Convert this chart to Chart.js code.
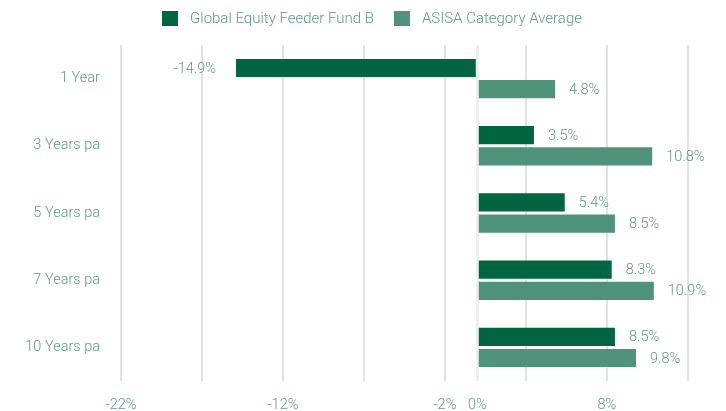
<!DOCTYPE html>
<html>
<head>
<meta charset="utf-8">
<script src="https://cdn.jsdelivr.net/npm/chart.js@4.4.1/dist/chart.umd.min.js"></script>
<style>
html,body{margin:0;padding:0;background:#fff;}
#wrap{width:726px;height:411px;position:relative;}
</style>
</head>
<body>
<div id="wrap"><canvas id="c"></canvas></div>
<script>
const categories = ["1 Year", "3 Years pa", "5 Years pa", "7 Years pa", "10 Years pa"];
const fundValues = [-14.9, 3.5, 5.4, 8.3, 8.5];
const categoryAvgValues = [4.8, 10.8, 8.5, 10.9, 9.8];
const seriesNames = ["Global Equity Feeder Fund B", "ASISA Category Average"];
const gridTicks = [-22, -17, -12, -7, -2, 0, 3, 8, 13];
const labelledTicks = [-22, -12, -2, 0, 8];

const FONT = "Roboto, 'Liberation Sans', sans-serif";
const TEXT = '#5f9c84';
const COLORS = ['#006541', '#4e937a'];

// Legend drawn on the canvas with spacing matched to the reference
const customLegend = {
  id: 'customLegend',
  afterDraw(chart) {
    const ctx = chart.ctx;
    ctx.save();
    ctx.font = '300 15px ' + FONT;
    const boxW = 16, boxH = 15, gapText = 12, gapItem = 20;
    const items = chart.data.datasets.map(ds => ({ label: ds.label, color: ds.backgroundColor, w: ctx.measureText(ds.label).width }));
    let total = 0;
    items.forEach((it, i) => { total += boxW + gapText + it.w + (i < items.length - 1 ? gapItem : 0); });
    let x = 372 - total / 2;
    const boxTop = 11;
    items.forEach(it => {
      ctx.fillStyle = it.color;
      ctx.fillRect(x, boxTop, boxW, boxH);
      x += boxW + gapText;
      ctx.fillStyle = TEXT;
      ctx.textAlign = 'left';
      ctx.textBaseline = 'alphabetic';
      ctx.fillText(it.label, x, 23);
      x += it.w + gapItem;
    });
    ctx.restore();
  }
};

const valueLabels = {
  id: 'valueLabels',
  afterDatasetsDraw(chart) {
    const ctx = chart.ctx;
    ctx.save();
    ctx.font = '300 14.5px ' + FONT;
    ctx.fillStyle = TEXT;
    ctx.textBaseline = 'middle';
    chart.data.datasets.forEach((ds, di) => {
      const meta = chart.getDatasetMeta(di);
      meta.data.forEach((bar, i) => {
        const v = ds.data[i];
        const txt = v.toFixed(1) + '%';
        if (v >= 0) {
          ctx.textAlign = 'left';
          ctx.fillText(txt, bar.x + 14, bar.y + 1);
        } else {
          ctx.textAlign = 'right';
          ctx.fillText(txt, bar.x - 20, bar.y + 1);
        }
      });
    });
    ctx.restore();
  }
};

new Chart(document.getElementById('c'), {
  type: 'bar',
  data: {
    labels: categories,
    datasets: [
      { label: seriesNames[0], data: fundValues, backgroundColor: COLORS[0], barPercentage: 0.86, categoryPercentage: 0.63 },
      { label: seriesNames[1], data: categoryAvgValues, backgroundColor: COLORS[1], barPercentage: 0.86, categoryPercentage: 0.63 }
    ]
  },
  options: {
    indexAxis: 'y',
    responsive: true,
    maintainAspectRatio: false,
    animation: false,
    layout: { padding: { left: 0, right: 22, top: 45, bottom: 0 } },
    plugins: {
      legend: { display: false },
      tooltip: { enabled: false }
    },
    scales: {
      x: {
        min: -22,
        max: 14,
        afterBuildTicks(scale) { scale.ticks = gridTicks.map(v => ({ value: v })); },
        afterFit(scale) { scale.height = 30; },
        ticks: {
          autoSkip: false,
          maxRotation: 0,
          padding: 16,
          color: TEXT,
          font: { family: FONT, size: 14.5, weight: '300' },
          callback(v) { return labelledTicks.includes(v) ? v + '%' : ''; }
        },
        grid: {
          drawTicks: false,
          color: ctx => (ctx.tick && ctx.tick.value === 0) ? '#efefef' : '#e2e2e2',
          lineWidth: ctx => (ctx.tick && ctx.tick.value === 0) ? 3 : 2
        },
        border: { display: false }
      },
      y: {
        afterFit(scale) { scale.width = 121; },
        ticks: {
          padding: 21,
          color: TEXT,
          font: { family: FONT, size: 14.5, weight: '300' }
        },
        grid: { display: false, drawTicks: false },
        border: { display: false }
      }
    }
  },
  plugins: [valueLabels, customLegend]
});
</script>
</body>
</html>
